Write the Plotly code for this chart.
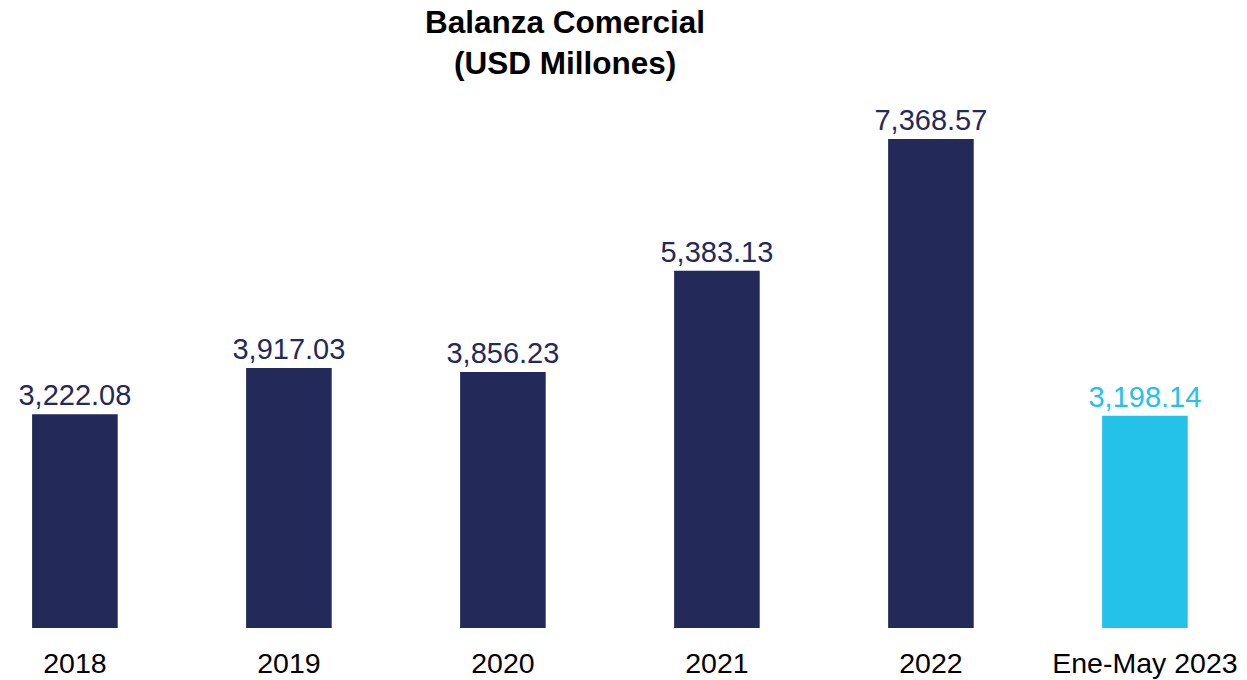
import plotly.graph_objects as go

categories = ["2018", "2019", "2020", "2021", "2022", "Ene-May 2023"]
values = [3222.08, 3917.03, 3856.23, 5383.13, 7368.57, 3198.14]
colors = ["#232A5A"] * 5 + ["#24C1E9"]

labels = [f"{v:,.2f}" for v in values]

fig = go.Figure(
    go.Bar(
        x=categories,
        y=values,
        width=0.4,
        marker=dict(color=colors, line=dict(width=0)),
        text=labels,
        textposition="outside",
        constraintext="none",
        textfont=dict(size=29, color=colors, family="Liberation Sans, Arial"),
        cliponaxis=False,
    )
)

# title as a paper annotation so both lines sit where they should
fig.add_annotation(
    text="<b>Balanza Comercial<br>(USD Millones)</b>",
    xref="paper",
    yref="paper",
    x=565 / 1247,
    y=1.163,
    xanchor="center",
    yanchor="top",
    showarrow=False,
    font=dict(size=31.5, color="black"),
)

fig.update_layout(
    width=1247,
    height=680,
    plot_bgcolor="white",
    paper_bgcolor="white",
    margin=dict(l=0, r=0, t=90, b=52),
    font=dict(family="Liberation Sans, Arial", color="black"),
    showlegend=False,
)
fig.update_xaxes(
    range=[-0.35, 5.477],
    showline=False,
    showgrid=False,
    ticks="",
    ticklabelstandoff=15,
    tickfont=dict(size=28.5, color="black"),
)
fig.update_yaxes(range=[0, 8107], visible=False, showgrid=False)

# drop the default body margin so the figure fills the window
fig.write_html(
    "out.html",
    config={"displayModeBar": False},
    post_script="document.body.style.margin='0';",
)
